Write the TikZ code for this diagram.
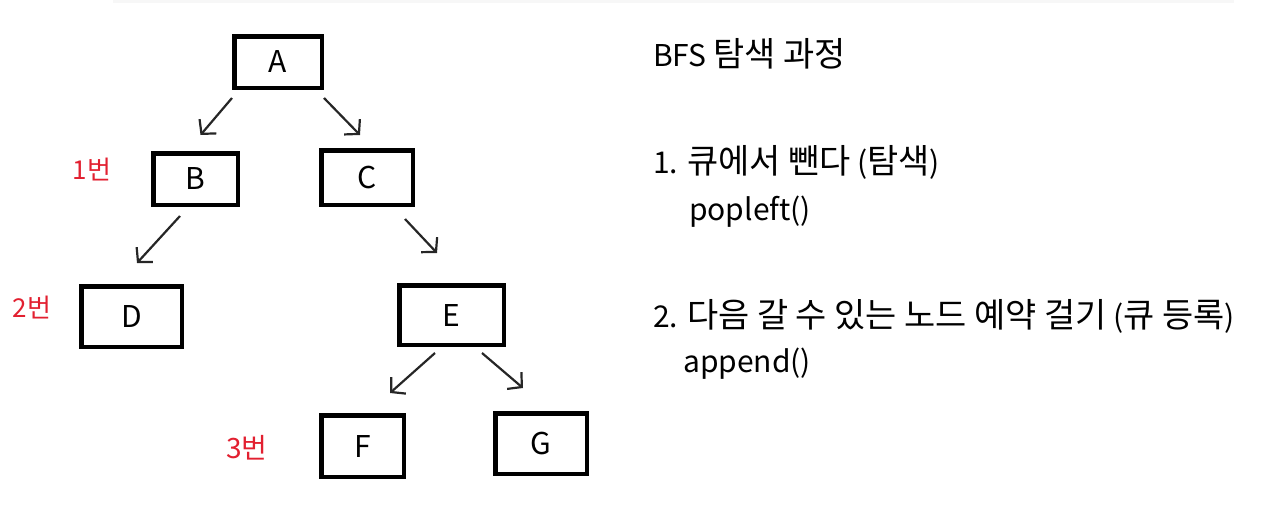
\documentclass[tikz,border=0pt]{standalone}
\usepackage{fontspec}
\setmainfont{Noto Sans CJK KR}
\newfontfamily\kofont[Scale=1.13]{Noto Sans CJK KR}
\newcommand\kor[1]{{\kofont #1}}
\usetikzlibrary{arrows.meta}
\definecolor{hand}{RGB}{226,32,48}
\begin{document}
\begin{tikzpicture}[x=1pt,y=-1pt,
  box/.style={draw=black, line width=4.5pt, inner sep=0pt, font=\fontsize{30}{32}\selectfont},
  arr/.style={line width=2.2pt, draw=black!85, -{Straight Barb[length=10pt,width=22pt]}},
  tag/.style={text=hand, inner sep=0pt, font=\fontsize{26}{28}\selectfont},
  txt/.style={anchor=base west, inner sep=0pt, font=\fontsize{30}{32}\selectfont}]
\useasboundingbox (0,0) rectangle (1264,509);
\fill[gray!6] (113,0) rectangle (1234,3);
% boxes
\node[box, minimum width=87.5pt, minimum height=51.5pt] (A) at (278,62) {A};
\node[box, minimum width=84.5pt, minimum height=51.5pt] (B) at (195.5,179) {B};
\node[box, minimum width=91.5pt, minimum height=54.5pt] (C) at (367,177.5) {C};
\node[box, minimum width=100.5pt, minimum height=60.5pt] (D) at (131.5,316.5) {D};
\node[box, minimum width=104.5pt, minimum height=59.5pt] (E) at (451.5,315) {E};
\node[box, minimum width=82.5pt, minimum height=61.5pt] (F) at (362.5,446) {F};
\node[box, minimum width=91.5pt, minimum height=60.5pt] (G) at (541,443.5) {G};
% arrows
\draw[arr] ([shift={(0,8)}]A.south west) -- ([shift={(5,-16)}]B.north);
\draw[arr] ([shift={(0,8)}]A.south east) -- ([shift={(-7,-13)}]C.north);
\draw[arr] ([shift={(-15.5,9)}]B.south) -- ([shift={(5.5,-21)}]D.north);
\draw[arr] ([shift={(-10,12)}]C.south east) -- ([shift={(-14.5,-30)}]E.north);
\draw[arr] ([shift={(-16.5,6)}]E.south) -- ([shift={(27.5,-20)}]F.north);
\draw[arr] ([shift={(30.5,6)}]E.south) -- ([shift={(-18,-23)}]G.north);
% red tags
\node[tag] (t1) at (92,170) {1번};
\node[tag] (t2) at (32,308) {2번};
\node[tag, font=\fontsize{28}{30}\selectfont] (t3) at (247,448) {3번};
% text
\node[txt] (h) at (653,66) {BFS \kor{탐색 과정}};
\node[txt] (s1) at (653,173) {1. \kor{큐에서 뺀다} (\kor{탐색})};
\node[txt] (p1) at (689,220) {popleft()};
\node[txt] (s2) at (653,327) {2. \kor{다음 갈 수 있는 노드 예약 걸기} (\kor{큐 등록})};
\node[txt] (p2) at (683,372) {append()};
\end{tikzpicture}
\end{document}
